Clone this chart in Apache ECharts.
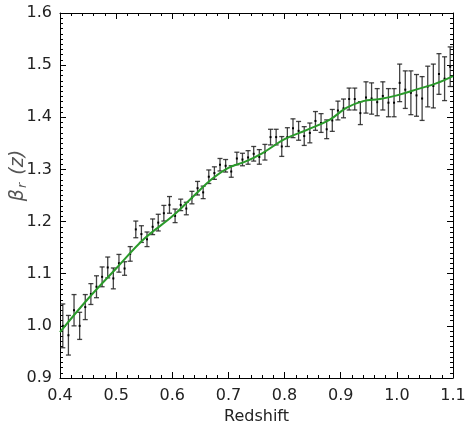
<!DOCTYPE html>
<html>
<head>
<meta charset="utf-8">
<script src="https://cdn.jsdelivr.net/npm/echarts@6/dist/echarts.min.js"></script>
<style>html,body{margin:0;padding:0;background:#fff}#c{width:465px;height:430px}</style>
</head>
<body>
<div id="c"></div>
<script>
var redshift = [0.405,0.415,0.425,0.435,0.445,0.455,0.465,0.475,0.485,0.495,
0.505,0.515,0.525,0.535,0.545,0.555,0.565,0.575,0.585,0.595,
0.605,0.615,0.625,0.635,0.645,0.655,0.665,0.675,0.685,0.695,
0.705,0.715,0.725,0.735,0.745,0.755,0.765,0.775,0.785,0.795,
0.805,0.815,0.825,0.835,0.845,0.855,0.865,0.875,0.885,0.895,
0.905,0.915,0.925,0.935,0.945,0.955,0.965,0.975,0.985,0.995,
1.005,1.015,1.025,1.035,1.045,1.055,1.065,1.075,1.085,1.095];
var beta = [1.000,0.982,1.030,1.000,1.036,1.061,1.075,1.094,1.112,1.091,
1.120,1.110,1.138,1.185,1.176,1.166,1.190,1.198,1.216,1.232,
1.211,1.232,1.225,1.246,1.264,1.256,1.286,1.293,1.309,1.307,
1.296,1.321,1.319,1.323,1.330,1.324,1.333,1.362,1.362,1.344,
1.362,1.379,1.374,1.364,1.370,1.393,1.389,1.377,1.394,1.413,
1.417,1.435,1.435,1.408,1.438,1.436,1.429,1.441,1.428,1.428,
1.466,1.453,1.447,1.442,1.436,1.459,1.460,1.483,1.474,1.497];
var betaErr = [0.042,0.038,0.030,0.026,0.024,0.020,0.021,0.019,0.020,0.020,
0.017,0.013,0.014,0.016,0.016,0.014,0.015,0.016,0.015,0.016,
0.013,0.011,0.012,0.012,0.013,0.012,0.013,0.012,0.012,0.012,
0.011,0.012,0.012,0.013,0.014,0.014,0.015,0.015,0.015,0.019,
0.018,0.018,0.018,0.018,0.019,0.018,0.018,0.018,0.021,0.018,
0.018,0.021,0.021,0.022,0.030,0.030,0.026,0.027,0.027,0.027,
0.036,0.036,0.042,0.040,0.042,0.039,0.042,0.039,0.042,0.038];
var fitX = [0.40,0.45,0.50,0.55,0.60,0.64,0.67,0.70,0.73,0.76,0.80,0.84,0.88,0.91,0.94,0.97,1.00,1.04,1.07,1.10];
var fitY = [0.988,1.052,1.110,1.167,1.210,1.251,1.281,1.303,1.315,1.331,1.358,1.376,1.395,1.418,1.431,1.435,1.442,1.455,1.465,1.479];
var xTicks = [0.4,0.5,0.6,0.7,0.8,0.9,1.0,1.1];
var yTicks = [0.9,1.0,1.1,1.2,1.3,1.4,1.5,1.6];

var font = 'DejaVu Sans';
var errData = redshift.map(function (x, i) { return [x, beta[i], betaErr[i]]; });
var fitData = fitX.map(function (x, i) { return [x, fitY[i]]; });

var chart = echarts.init(document.getElementById('c'), null, {renderer: 'canvas'});
var axisLineStyle = {color: '#000', width: 1};
function fmt(v) { return v.toFixed(1); }
chart.setOption({
  animation: false,
  backgroundColor: '#fff',
  grid: {left: 60, right: 12, top: 13, bottom: 52, containLabel: false, outerBoundsMode: 'none'},
  xAxis: [{
    type: 'value', min: xTicks[0], max: xTicks[xTicks.length - 1], interval: 0.1,
    name: 'Redshift', nameLocation: 'middle', nameGap: 31, nameMoveOverlap: false,
    nameTextStyle: {fontFamily: font, fontSize: 16, color: '#222'},
    axisLine: {show: true, onZero: false, lineStyle: axisLineStyle},
    axisTick: {show: true, inside: true, length: 6, lineStyle: axisLineStyle},
    minorTick: {show: true, splitNumber: 5, length: 3, lineStyle: {color: '#000'}},
    splitLine: {show: false},
    axisLabel: {fontFamily: font, fontSize: 16, color: '#222', margin: 10, formatter: fmt}
  }, {
    type: 'value', position: 'top', min: xTicks[0], max: xTicks[xTicks.length - 1], interval: 0.1,
    axisLine: {show: true, onZero: false, lineStyle: axisLineStyle},
    axisTick: {show: true, inside: true, length: 6, lineStyle: axisLineStyle},
    minorTick: {show: true, splitNumber: 5, length: 3, lineStyle: {color: '#000'}},
    splitLine: {show: false}, axisLabel: {show: false}
  }],
  yAxis: [{
    type: 'value', min: yTicks[0], max: yTicks[yTicks.length - 1], interval: 0.1,
    name: '{b|β}{s|r}{p|(z)}', nameLocation: 'middle', nameGap: 31, nameRotate: 90, nameMoveOverlap: false,
    nameTextStyle: {
      padding: [0, 0, 0, 40],
      rich: {
        b: {fontFamily: font, fontStyle: 'italic', fontSize: 19, color: '#555'},
        s: {fontFamily: font, fontStyle: 'italic', fontSize: 13, color: '#555', verticalAlign: 'bottom', padding: [9, 8, 0, 1]},
        p: {fontFamily: font, fontStyle: 'italic', fontSize: 19, color: '#555'}
      }
    },
    axisLine: {show: true, onZero: false, lineStyle: axisLineStyle},
    axisTick: {show: true, inside: true, length: 6, lineStyle: axisLineStyle},
    minorTick: {show: true, splitNumber: 10, length: 3, lineStyle: {color: '#000'}},
    splitLine: {show: false},
    axisLabel: {fontFamily: font, fontSize: 16, color: '#222', margin: 8, formatter: fmt}
  }, {
    type: 'value', position: 'right', min: yTicks[0], max: yTicks[yTicks.length - 1], interval: 0.1,
    axisLine: {show: true, onZero: false, lineStyle: axisLineStyle},
    axisTick: {show: true, inside: true, length: 6, lineStyle: axisLineStyle},
    minorTick: {show: true, splitNumber: 10, length: 3, lineStyle: {color: '#000'}},
    splitLine: {show: false}, axisLabel: {show: false}
  }],
  series: [{
    type: 'custom',
    name: 'data',
    data: errData,
    encode: {x: 0, y: 1},
    z: 2,
    renderItem: function (params, api) {
      var x = api.value(0), y = api.value(1), e = api.value(2);
      var top = api.coord([x, y + e]);
      var bot = api.coord([x, y - e]);
      var mid = api.coord([x, y]);
      var cw = 2.5;
      var st = {stroke: '#222', lineWidth: 1.3, opacity: 0.85};
      return {
        type: 'group',
        children: [
          {type: 'line', shape: {x1: top[0], y1: top[1], x2: bot[0], y2: bot[1]}, style: st},
          {type: 'line', shape: {x1: top[0] - cw, y1: top[1], x2: top[0] + cw, y2: top[1]}, style: st},
          {type: 'line', shape: {x1: bot[0] - cw, y1: bot[1], x2: bot[0] + cw, y2: bot[1]}, style: st},
          {type: 'rect', shape: {x: mid[0] - 1, y: mid[1] - 1, width: 2, height: 2}, style: {fill: '#000'}}
        ]
      };
    }
  }, {
    type: 'line',
    name: 'fit',
    data: fitData,
    smooth: 0.4,
    showSymbol: false,
    z: 3,
    lineStyle: {color: '#2a9a2a', width: 2}
  }]
});
</script>
</body>
</html>
